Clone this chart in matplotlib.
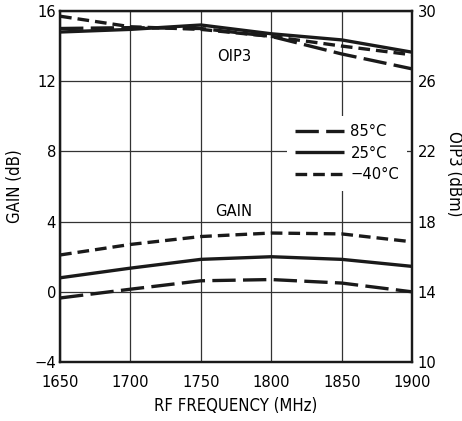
import matplotlib
matplotlib.use('Agg')

import matplotlib.pyplot as plt
from matplotlib import font_manager

FREQ = [1650, 1700, 1750, 1800, 1850, 1900]

GAIN_85 = [-0.35, 0.15, 0.63, 0.70, 0.50, 0.00]
GAIN_25 = [0.80, 1.35, 1.85, 2.00, 1.85, 1.45]
GAIN_M40 = [2.10, 2.70, 3.15, 3.35, 3.30, 2.85]

OIP3_85 = [29.00, 29.05, 29.00, 28.55, 27.55, 26.70]
OIP3_25 = [28.80, 28.95, 29.20, 28.70, 28.35, 27.65]
OIP3_M40 = [29.70, 29.10, 28.95, 28.55, 28.00, 27.50]

LABELS = ['85°C', '25°C', '\u221240°C']
XTICKS = [1650, 1700, 1750, 1800, 1850, 1900]
YTICKS_L = [-4, 0, 4, 8, 12, 16]
YTICKS_R = [10, 14, 18, 22, 26, 30]

# use a condensed face if one is installed, the reference uses a narrow font
condensed = [f for f in font_manager.fontManager.ttflist
             if f.name == 'DejaVu Sans' and f.stretch == 'condensed'
             and f.weight in (400, 'normal') and f.style == 'normal']
if condensed:
    plt.rcParams['font.family'] = ['DejaVu Sans']
    plt.rcParams['font.stretch'] = 'condensed'
    FS = 11.8
else:
    plt.rcParams['font.family'] = ['Liberation Sans', 'DejaVu Sans']
    FS = 12.5

LW = 2.4
STYLES = [dict(dashes=(7, 2.2)), dict(), dict(dashes=(3.5, 1.8))]

fig = plt.figure(figsize=(4.62, 4.21), dpi=100)
ax = fig.add_axes([0.13, 0.14, 0.762, 0.834])
ax2 = ax.twinx()

for ys, st in zip([GAIN_85, GAIN_25, GAIN_M40], STYLES):
    ax.plot(FREQ, ys, color='#1a1a1a', lw=LW, solid_capstyle='butt', **st)
for ys, st, lab in zip([OIP3_85, OIP3_25, OIP3_M40], STYLES, LABELS):
    ax2.plot(FREQ, ys, color='#1a1a1a', lw=LW, label=lab, solid_capstyle='butt', **st)

ax.set_xlim(1650, 1900)
ax.set_ylim(-4, 16)
ax2.set_ylim(10, 30)
ax.set_xticks(XTICKS)
ax.set_yticks(YTICKS_L)
ax2.set_yticks(YTICKS_R)
ax.grid(True, color='#333333', lw=0.9)
ax.set_axisbelow(True)

ax.tick_params(axis='y', length=0, labelsize=FS, pad=3)
ax.tick_params(axis='x', length=0, labelsize=FS, pad=9)
ax2.tick_params(length=0, labelsize=FS, pad=4)
for a in (ax, ax2):
    for s in a.spines.values():
        s.set_linewidth(1.6)
        s.set_color('#1a1a1a')

ax.set_xlabel('RF FREQUENCY (MHz)', fontsize=12, va='center')
ax.xaxis.set_label_coords(0.50, -0.125)
ax.set_ylabel('GAIN (dB)', fontsize=12, va='center')
ax.yaxis.set_label_coords(-0.129, 0.50)
ax2.set_ylabel('OIP3 (dBm)', fontsize=12, rotation=270, va='center')
ax2.yaxis.set_label_coords(1.12, 0.535)

ax.text(1774, 13.4, 'OIP3', fontsize=FS, ha='center', va='center')
ax.text(1773, 4.6, 'GAIN', fontsize=FS, ha='center', va='center')

leg = ax2.legend(loc='upper left', bbox_to_anchor=(0.62, 0.724), frameon=True,
                 fontsize=FS, handlelength=3.0, handletextpad=0.4,
                 labelspacing=0.4, borderpad=0.5, fancybox=False)
leg.get_frame().set_edgecolor('none')
leg.get_frame().set_facecolor('white')
leg.get_frame().set_alpha(1)

fig.savefig('out.png', dpi=100)
